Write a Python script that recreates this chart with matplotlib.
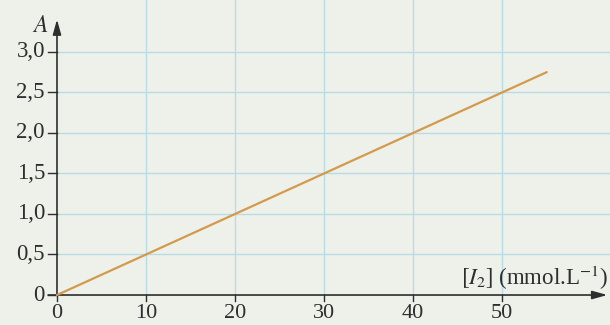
import matplotlib
matplotlib.use("Agg")
import matplotlib.pyplot as plt

# Data
conc = [0, 55]            # [I2] in mmol/L
absorb = [0, 2.75]        # absorbance A
xticks = [0, 10, 20, 30, 40, 50]
yticks = [0, 0.5, 1.0, 1.5, 2.0, 2.5, 3.0]
ytick_labels = ["0", "0,5", "1,0", "1,5", "2,0", "2,5", "3,0"]

plt.rcParams['font.family'] = ['Liberation Serif', 'DejaVu Serif']
plt.rcParams['mathtext.fontset'] = 'stix'

bg = '#eef1ea'
grid_c = '#b8dce6'
txt = '#2e2e2e'

fig = plt.figure(figsize=(6.1, 3.25), dpi=100, facecolor=bg)
ax = fig.add_axes([0, 0, 1, 1])
ax.set_facecolor(bg)
ax.set_xlim(-6.4, 62.1)
ax.set_ylim(-0.37, 3.64)
ax.axis('off')

# grid
for x in xticks[1:]:
    ax.plot([x, x], [0, 3.64], color=grid_c, lw=1.0, zorder=1)
for y in yticks[1:]:
    ax.plot([0, 62.1], [y, y], color=grid_c, lw=1.0, zorder=1)

# axes with arrows
ax.annotate('', xy=(61.8, 0), xytext=(-1.0, 0),
            arrowprops=dict(arrowstyle='-|>,head_length=0.9,head_width=0.25',
                            color=txt, lw=1.2, shrinkA=0, shrinkB=0), zorder=3)
ax.annotate('', xy=(0, 3.40), xytext=(0, 0),
            arrowprops=dict(arrowstyle='-|>,head_length=0.9,head_width=0.25',
                            color=txt, lw=1.2, shrinkA=0, shrinkB=0), zorder=3)

# ticks
for x in xticks:
    ax.plot([x, x], [0, -0.075], color=txt, lw=1.0, zorder=3)
    ax.text(x, -0.105, str(x), ha='center', va='top', fontsize=16, color=txt)
for y, lab in zip(yticks, ytick_labels):
    ax.plot([-1.0, 0], [y, y], color=txt, lw=1.0, zorder=3)
    ax.text(-1.35, y, lab, ha='right', va='center', fontsize=16.5, color=txt)

# line
ax.plot(conc, absorb, color='#d39a4e', lw=1.6, zorder=4, solid_capstyle='round')

# labels
ax.text(-1.9, 3.31, r'$A$', ha='center', va='center', fontsize=17, color=txt)
ax.text(61.9, 0.21, r'$[I_2]$ (mmol.L$^{-1}$)', ha='right', va='center',
        fontsize=16.5, color=txt)

fig.savefig('out.png', dpi=100, facecolor=bg)
